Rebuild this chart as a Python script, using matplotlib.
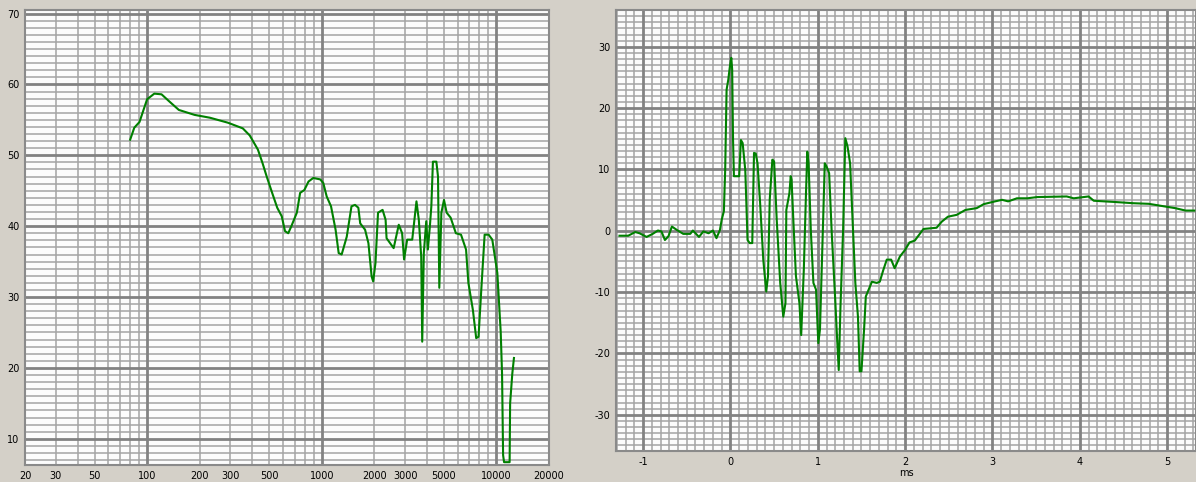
import numpy as np
import matplotlib
matplotlib.use("Agg")
import matplotlib.pyplot as plt

plt.rcParams["axes.unicode_minus"] = False

# frequency response (left)
freq = [80, 84.5, 90.5, 94.8, 100, 110, 121, 134, 152, 187, 229, 290, 353, 387,
        431, 458, 484, 520, 556, 590, 616, 643, 670, 720, 752, 795, 840, 894,
        980, 1020, 1067, 1130, 1200, 1250, 1300, 1390, 1480, 1550, 1620, 1660,
        1770, 1850, 1930, 1970, 2030, 2100, 2230, 2320, 2350, 2580, 2760, 2885,
        2960, 3083, 3296, 3485, 3595, 3710, 3760, 3840, 3965, 4050, 4160, 4240,
        4330, 4530, 4630, 4710, 4840, 5010, 5190, 5470, 5860, 6270, 6700, 6910,
        7330, 7660, 7900, 8190, 8560, 9020, 9470, 10120, 10300, 10580, 10770,
        10920, 11060, 11900, 11980, 12330, 12600]
level = [52.2, 53.9, 54.7, 56.2, 57.9, 58.7, 58.6, 57.6, 56.4, 55.7, 55.3, 54.6,
         53.8, 52.8, 50.8, 48.9, 47.0, 44.7, 42.6, 41.4, 39.3, 39.0, 40.0, 41.9,
         44.7, 45.1, 46.3, 46.8, 46.6, 46.1, 44.2, 42.8, 39.5, 36.2, 36.0, 38.5,
         42.8, 43.0, 42.6, 40.4, 39.5, 37.6, 32.9, 32.2, 34.8, 41.9, 42.3, 40.9,
         38.3, 36.9, 40.2, 39.0, 35.3, 38.1, 38.1, 43.5, 40.9, 35.7, 23.7, 36.2,
         40.7, 36.7, 40.0, 42.8, 49.1, 49.1, 47.0, 31.3, 41.9, 43.7, 41.9, 41.2,
         39.0, 38.8, 36.7, 32.0, 28.2, 24.2, 24.4, 31.0, 38.8, 38.8, 38.1, 33.4,
         30.1, 25.1, 19.2, 7.7, 6.7, 6.7, 15.0, 19.2, 21.4]

# impulse response (right)
t_ms = [-1.27, -1.17, -1.09, -1.04, -0.96, -0.89, -0.83, -0.79, -0.75, -0.71,
        -0.67, -0.62, -0.54, -0.46, -0.43, -0.36, -0.31, -0.25, -0.20, -0.16,
        -0.12, -0.10, -0.075, -0.06, -0.044, -0.025, -0.006, 0.01, 0.02, 0.03,
        0.04, 0.10, 0.12, 0.14, 0.17, 0.196, 0.22, 0.25, 0.27, 0.29, 0.31, 0.34,
        0.376, 0.41, 0.43, 0.45, 0.48, 0.50, 0.53, 0.57, 0.605, 0.63, 0.64,
        0.675, 0.69, 0.70, 0.72, 0.75, 0.79, 0.81, 0.84, 0.865, 0.88, 0.895,
        0.92, 0.95, 0.98, 1.006, 1.025, 1.056, 1.08, 1.10, 1.13, 1.16, 1.20,
        1.216, 1.24, 1.26, 1.29, 1.315, 1.34, 1.37, 1.40, 1.43, 1.46, 1.48,
        1.50, 1.53, 1.55, 1.62, 1.675, 1.71, 1.75, 1.79, 1.84, 1.88, 1.94, 2.0,
        2.05, 2.11, 2.21, 2.36, 2.42, 2.49, 2.59, 2.69, 2.82, 2.9, 3.03, 3.11,
        3.18, 3.28, 3.40, 3.51, 3.85, 3.93, 4.1, 4.16, 4.4, 4.61, 4.79, 4.96,
        5.09, 5.21, 5.31]
amp = [-0.8, -0.8, -0.2, -0.4, -1.0, -0.5, 0.05, -0.1, -1.5, -0.9, 0.7, 0.2,
       -0.5, -0.5, 0.05, -1.0, -0.1, -0.4, 0.05, -1.2, 0.15, 1.8, 3.2, 9.9,
       23.0, 24.6, 26.8, 28.2, 26.3, 14.8, 8.9, 8.9, 14.8, 14.3, 9.9, -1.5,
       -2.0, -2.0, 12.7, 12.6, 11.0, 4.5, -4.7, -9.9, -7.4, 5.1, 11.6, 11.3,
       1.8, -8.5, -14.0, -11.8, 3.4, 6.1, 8.9, 8.3, 1.8, -7.4, -11.8, -17.0,
       -6.4, 6.1, 12.9, 11.0, 0.2, -8.5, -9.6, -18.3, -16.1, -0.9, 11.0, 10.5,
       9.4, -0.4, -11.3, -16.1, -22.7, -12.3, 0.2, 15.1, 13.8, 11.0, 1.25,
       -8.5, -14.0, -22.9, -22.9, -16.1, -10.7, -8.3, -8.5, -8.3, -6.4, -4.7,
       -4.7, -6.1, -4.2, -3.1, -1.9, -1.6, 0.3, 0.5, 1.5, 2.3, 2.6, 3.4, 3.7,
       4.35, 4.8, 5.05, 4.8, 5.3, 5.3, 5.5, 5.6, 5.3, 5.6, 4.9, 4.7, 4.5, 4.4,
       4.0, 3.7, 3.3, 3.3]

freq_labels = [20, 30, 50, 100, 200, 300, 500, 1000, 2000, 3000, 5000, 10000, 20000]
ms_labels = [-1, 0, 1, 2, 3, 4, 5]

bg = "#d4d0c8"
thin = dict(color="#a4a4a4", lw=1.1, zorder=1)
thick = dict(color="#828282", lw=2.0, zorder=2)
green = "#008000"

fig = plt.figure(figsize=(11.96, 4.82), dpi=100, facecolor=bg)
ax1 = fig.add_axes([25 / 1196, 1 - 465 / 482, 524 / 1196, 455 / 482])
ax2 = fig.add_axes([616 / 1196, 1 - 451 / 482, 580 / 1196, 441 / 482])

for ax in (ax1, ax2):
    ax.set_facecolor("#fcfcfc")
    for s in ax.spines.values():
        s.set_color("#8a8a8a")
        s.set_linewidth(1.5)
    ax.tick_params(length=0, labelsize=7, colors="black", pad=4)

# left panel grid
ax1.set_xscale("log")
ax1.set_xlim(20, 20000)
ax1.set_ylim(6.3, 70.5)
for dec in [10, 100, 1000, 10000]:
    for m in range(1, 10):
        f = dec * m
        if 20 <= f <= 20000:
            ax1.axvline(f, **(thick if m == 1 else thin))
for v in range(7, 71):
    ax1.axhline(v, **(thick if v % 10 == 0 else thin))
ax1.plot(freq, level, color=green, lw=1.5, zorder=3)
ax1.set_xticks(freq_labels)
ax1.set_xticklabels([str(v) for v in freq_labels])
ax1.minorticks_off()
ax1.set_yticks(range(10, 71, 10))

# right panel grid
ax2.set_xlim(-1.31, 5.33)
ax2.set_ylim(-35.9, 36.0)
for i in range(-13, 54):
    ax2.axvline(i / 10, **(thick if i % 10 == 0 else thin))
for v in range(-35, 36):
    ax2.axhline(v, **(thick if v % 10 == 0 else thin))
ax2.plot(t_ms, amp, color=green, lw=1.5, zorder=3)
ax2.set_xticks(ms_labels)
ax2.set_yticks(range(-30, 31, 10))
ax2.set_xlabel("ms", fontsize=7, labelpad=1)

fig.savefig("out.png", dpi=100, facecolor=bg)
